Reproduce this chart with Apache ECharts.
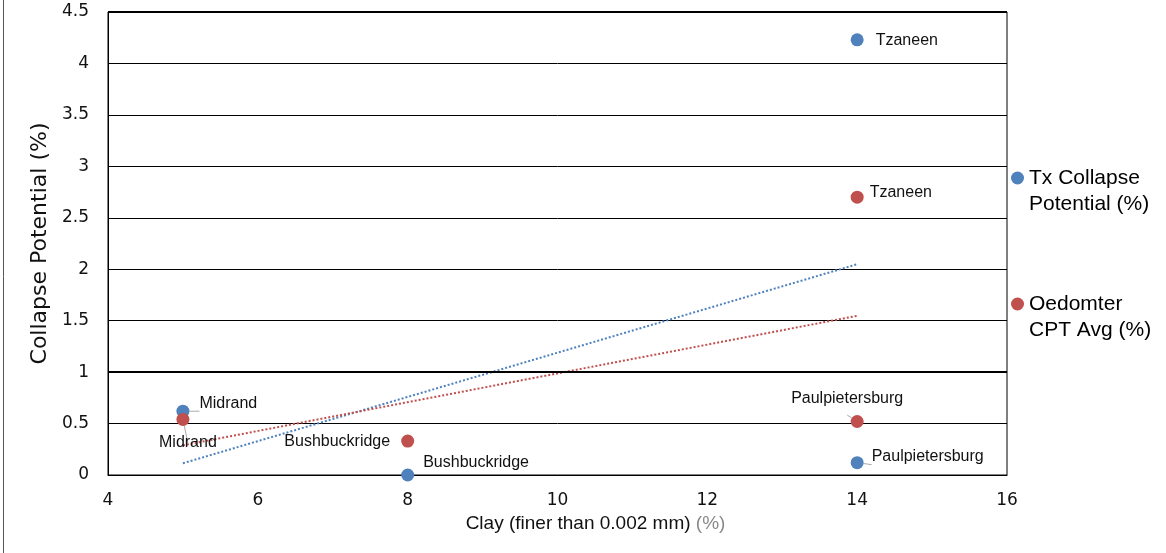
<!DOCTYPE html>
<html><head><meta charset="utf-8">
<script src="https://cdn.jsdelivr.net/npm/echarts@6/dist/echarts.min.js"></script>
<style>html,body{margin:0;padding:0;background:#fff}#c{width:1166px;height:553px}</style>
</head><body><div id="c"></div>
<script>
// ---- data ----
const sites = ['Midrand', 'Bushbuckridge', 'Tzaneen', 'Paulpietersburg'];
const clay = [5, 8, 14, 14];
const txCollapse = [0.62, 0.00, 4.23, 0.12];
const oedCPT = [0.54, 0.33, 2.70, 0.52];
const seriesNames = ['Tx Collapse\nPotential (%)', 'Oedomter\nCPT Avg (%)'];
const xAxisTitle = 'Clay (finer than 0.002 mm)';
const xAxisUnit = ' (%)';
const yAxisTitle = 'Collapse Potential (%)';

// ---- styles ----
const BLUE = '#4F81BD', RED = '#C0504D';
const FONT = '"Liberation Sans", Arial, sans-serif';
const txLabelPos = [
  {position: 'right', offset: [1, -8], guide: true},
  {position: 'right', offset: [0, -12], guide: false},
  {position: 'right', offset: [3, 1], guide: false},
  {position: 'right', offset: [-1, -6], guide: true}
];
const oedLabelPos = [
  {position: 'bottom', offset: [5, 0], guide: true},
  {position: 'left', offset: [-2, 1], guide: false},
  {position: 'right', offset: [-3, -5], guide: false},
  {position: 'top', offset: [-10, 1], guide: true}
];

function fit(xs, ys) {
  const n = xs.length;
  const mx = xs.reduce((a, b) => a + b, 0) / n;
  const my = ys.reduce((a, b) => a + b, 0) / n;
  let sxy = 0, sxx = 0;
  for (let i = 0; i < n; i++) { sxy += (xs[i] - mx) * (ys[i] - my); sxx += (xs[i] - mx) ** 2; }
  const b = sxy / sxx, a = my - b * mx;
  const lo = Math.min(...xs), hi = Math.max(...xs);
  return [[lo, a + b * lo], [hi, a + b * hi]];
}

function pts(ys, pos) {
  return clay.map((x, i) => ({
    value: [x, ys[i]],
    name: sites[i],
    label: {position: pos[i].position, offset: pos[i].offset},
    labelLine: {show: pos[i].guide}
  }));
}

const labelStyle = {show: true, formatter: '{b}', fontFamily: FONT, fontSize: 16, color: '#111', distance: 9};

const chart = echarts.init(document.getElementById('c'), null, {renderer: 'canvas'});
chart.setOption({
  animation: false,
  backgroundColor: '#fff',
  grid: {left: 108, top: 12, width: 899, height: 463, show: true, borderColor: '#000', borderWidth: 1, containLabel: false},
  legend: {
    orient: 'vertical', left: 1011, top: 139, padding: 0, itemGap: 48,
    itemWidth: 13, itemHeight: 13, icon: 'circle',
    data: [seriesNames[0], seriesNames[1]],
    formatter: name => '\n' + name,
    textStyle: {fontFamily: FONT, fontSize: 21, color: '#000', lineHeight: 26}
  },
  xAxis: {
    type: 'value', min: 4, max: 16, interval: 2,
    axisLine: {show: true, lineStyle: {color: '#000', width: 1}},
    axisTick: {show: false},
    splitLine: {show: false},
    axisLabel: {fontFamily: '"DejaVu Sans", sans-serif', fontSize: 17, color: '#111', margin: 17},
    name: '{t|' + xAxisTitle + '}{u|' + xAxisUnit + '}',
    nameLocation: 'middle', nameGap: 38,
    nameTextStyle: {
      fontFamily: FONT, fontSize: 19, color: '#111', padding: [0, 0, 0, 76],
      rich: {
        t: {fontFamily: FONT, fontSize: 19, color: '#111'},
        u: {fontFamily: FONT, fontSize: 19, color: '#8a8a8a'}
      }
    }
  },
  yAxis: {
    type: 'value', min: 0, max: 4.5, interval: 0.5,
    axisLine: {show: true, lineStyle: {color: '#000', width: 1}},
    axisTick: {show: false},
    splitLine: {show: true, lineStyle: {color: '#000', width: 1}},
    axisLabel: {fontFamily: '"DejaVu Sans", sans-serif', fontSize: 17, color: '#111', margin: 19},
    name: yAxisTitle, nameLocation: 'middle', nameGap: 40,
    nameTextStyle: {fontFamily: '"DejaVu Sans", sans-serif', fontSize: 22, color: '#111'}
  },
  series: [
    {
      name: seriesNames[0], type: 'scatter', symbolSize: 13, z: 5,
      itemStyle: {color: BLUE, opacity: 1},
      label: labelStyle,
      labelLine: {lineStyle: {color: '#aaa', width: 1}, length2: 0},
      data: pts(txCollapse, txLabelPos),
      markLine: {
        silent: true, symbol: 'none', label: {show: false},
        lineStyle: {color: '#000', width: 2, type: 'solid'},
        data: [{yAxis: 1}, {yAxis: 4.5}]
      }
    },
    {
      name: seriesNames[1], type: 'scatter', symbolSize: 13, z: 5,
      itemStyle: {color: RED, opacity: 1},
      label: labelStyle,
      labelLine: {lineStyle: {color: '#aaa', width: 1}, length2: 0},
      data: pts(oedCPT, oedLabelPos)
    },
    {
      name: 'trend tx', type: 'line', symbol: 'none', z: 3,
      lineStyle: {color: BLUE, width: 2, type: [2, 2]},
      data: fit(clay, txCollapse)
    },
    {
      name: 'trend oed', type: 'line', symbol: 'none', z: 3,
      lineStyle: {color: RED, width: 2, type: [2, 2]},
      data: fit(clay, oedCPT)
    }
  ],
  graphic: [
    {type: 'line', shape: {x1: 3.5, y1: 0, x2: 3.5, y2: 553}, style: {stroke: '#555', lineWidth: 1}}
  ]
});
</script>
</body></html>
